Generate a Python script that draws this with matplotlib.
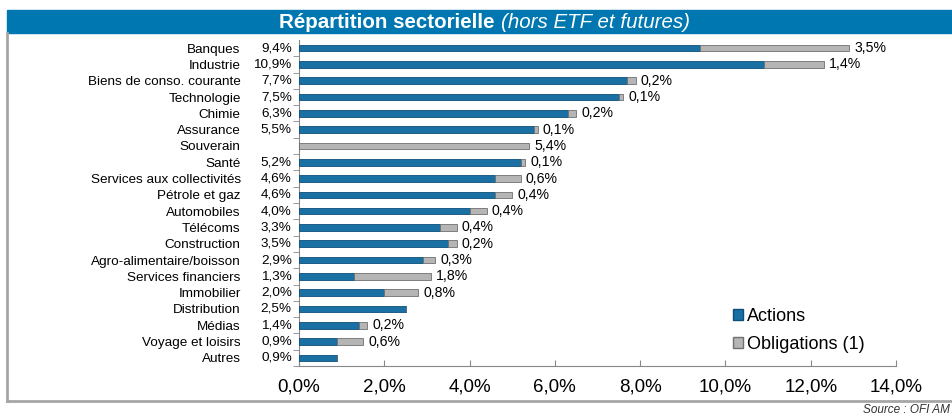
import matplotlib
matplotlib.use('Agg')
import matplotlib.pyplot as plt
from matplotlib.patches import Rectangle, Patch
from matplotlib.lines import Line2D

plt.rcParams['font.family'] = ['Liberation Sans', 'DejaVu Sans']

secteurs = ['Banques', 'Industrie', 'Biens de conso. courante', 'Technologie', 'Chimie',
            'Assurance', 'Souverain', 'Santé', 'Services aux collectivités', 'Pétrole et gaz',
            'Automobiles', 'Télécoms', 'Construction', 'Agro-alimentaire/boisson',
            'Services financiers', 'Immobilier', 'Distribution', 'Médias',
            'Voyage et loisirs', 'Autres']
actions = [9.4, 10.9, 7.7, 7.5, 6.3, 5.5, 0.0, 5.2, 4.6, 4.6,
           4.0, 3.3, 3.5, 2.9, 1.3, 2.0, 2.5, 1.4, 0.9, 0.9]
obligations = [3.5, 1.4, 0.2, 0.1, 0.2, 0.1, 5.4, 0.1, 0.6, 0.4,
               0.4, 0.4, 0.2, 0.3, 1.8, 0.8, 0.0, 0.2, 0.6, 0.0]
xticks = [0, 2, 4, 6, 8, 10, 12, 14]

blue = '#1a6fa3'
grey = '#b5b5b5'
frame = '#a6a6a6'

def fr(v):
    return ('%.1f' % v).replace('.', ',') + '%'

fig = plt.figure(figsize=(9.53, 4.16), dpi=100)
W, H = 953.0, 416.0

# bandeau titre
fig.patches.append(Rectangle((7 / W, 1 - 33 / H), 1 - 7 / W, 23 / H,
                             transform=fig.transFigure, color='#0077b0', zorder=0))
fig.text(495 / W, 1 - 22 / H, 'Répartition sectorielle', color='white', fontsize=14.8,
         fontweight='bold', ha='right', va='center')
fig.text(501 / W, 1 - 22 / H, '(hors ETF et futures)', color='white', fontsize=14.8,
         style='italic', ha='left', va='center')

# cadre
fig.add_artist(Line2D([7 / W, 7 / W], [1 - 33 / H, 1 - 401 / H], transform=fig.transFigure,
                      color=frame, lw=2))
fig.add_artist(Line2D([7 / W, 1], [1 - 401 / H, 1 - 401 / H], transform=fig.transFigure,
                      color=frame, lw=2))
fig.text(950 / W, 1 - 410 / H, 'Source : OFI AM', fontsize=8.5, style='italic',
         ha='right', va='center', color='#333333')

ax = fig.add_axes([299 / W, 1 - 366 / H, (896 - 299) / W, (366 - 40) / H])
y = list(range(len(secteurs)))
ax.barh(y, actions, height=0.4, color=blue, edgecolor='#0c4f7a', linewidth=0.6, zorder=3)
ax.barh(y, obligations, left=actions, height=0.4, color=grey, edgecolor='#6f6f6f',
        linewidth=0.6, zorder=3)

for i in y:
    if actions[i] > 0:
        ax.text(-0.17, i, fr(actions[i]), ha='right', va='center', fontsize=9.7)
    if obligations[i] > 0:
        ax.text(actions[i] + obligations[i] + 0.12, i, fr(obligations[i]),
                ha='left', va='center', fontsize=10.2)

ax.set_xlim(0, 14)
ax.set_ylim(len(secteurs) - 0.5, -0.5)
ax.set_yticks(y)
ax.set_yticklabels(secteurs, fontsize=9.7)
ax.tick_params(axis='y', length=0, pad=42)
ax.set_yticks([i + 0.5 for i in y], minor=True)
ax.tick_params(axis='y', which='minor', length=4, color='#888888', direction='out')
ax.set_xticks(xticks)
ax.set_xticklabels([fr(v) for v in xticks], fontsize=13.5)
ax.tick_params(axis='x', length=4, direction='in', color='#888888', pad=9)

for s in ['top', 'right']:
    ax.spines[s].set_visible(False)
ax.spines['left'].set_color('#888888')
ax.spines['bottom'].set_color('#888888')

handles = [Patch(facecolor=blue, edgecolor='#0c4f7a'), Patch(facecolor=grey, edgecolor='#6f6f6f')]
fig.legend(handles, ['Actions', 'Obligations (1)'], loc='upper left',
           bbox_to_anchor=(733 / W, 1 - 308 / H), frameon=False, fontsize=13,
           handlelength=0.55, handleheight=0.55, handletextpad=0.25, labelspacing=0.6,
           borderaxespad=0, borderpad=0)

fig.savefig('out.png', dpi=100)
